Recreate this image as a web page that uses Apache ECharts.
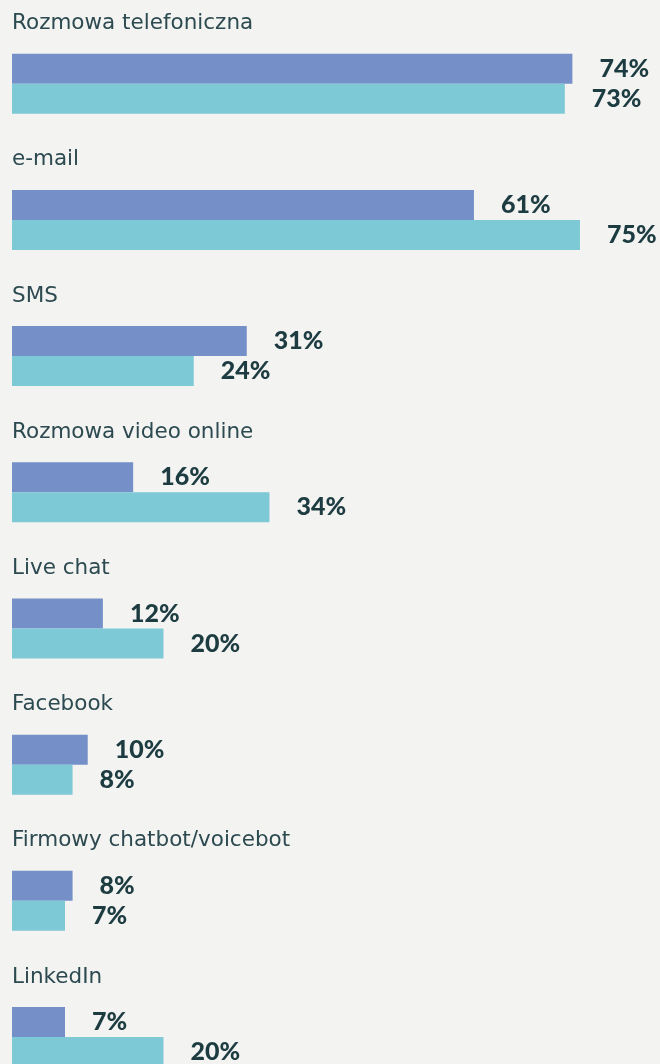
<!DOCTYPE html>
<html>
<head>
<meta charset="utf-8">
<script src="https://cdn.jsdelivr.net/npm/echarts@6/dist/echarts.min.js"></script>
<style>
  html, body { margin: 0; padding: 0; background: #f3f3f1; }
  #chart { width: 660px; height: 1064px; }
</style>
</head>
<body>
<div id="chart"></div>
<script>
  // kanały kontaktu
  const categories = [
    'Rozmowa telefoniczna',
    'e-mail',
    'SMS',
    'Rozmowa video online',
    'Live chat',
    'Facebook',
    'Firmowy chatbot/voicebot',
    'LinkedIn'
  ];
  const seriesA = [74, 61, 31, 16, 12, 10, 8, 7];
  const seriesB = [73, 75, 24, 34, 20, 8, 7, 20];

  const chart = echarts.init(document.getElementById('chart'));

  const valueLabel = {
    show: true,
    position: 'right',
    distance: 27,
    formatter: '{c}%',
    fontFamily: 'Lato',
    fontWeight: 900,
    fontSize: 25,
    color: '#1d3c41'
  };

  chart.setOption({
    backgroundColor: '#f3f3f1',
    animation: false,
    grid: {
      left: 12,
      top: 83.7,
      width: 643.7,
      height: 953.3
    },
    xAxis: {
      type: 'value',
      min: 0,
      max: 85,
      show: false
    },
    yAxis: {
      type: 'category',
      data: categories,
      inverse: true,
      boundaryGap: false,
      show: false
    },
    series: [
      {
        type: 'bar',
        data: seriesA,
        barWidth: 30,
        barGap: 0,
        clip: false,
        itemStyle: { color: '#7590c9' },
        label: valueLabel
      },
      {
        type: 'bar',
        data: seriesB,
        barWidth: 30,
        clip: false,
        itemStyle: { color: '#7dc9d5' },
        label: valueLabel
      },
      {
        // nazwy kategorii nad słupkami
        type: 'scatter',
        data: categories.map(c => [0, c]),
        symbolSize: 0,
        clip: false,
        silent: true,
        itemStyle: { opacity: 1 },
        label: {
          show: true,
          position: 'right',
          distance: 0,
          offset: [0, -60],
          formatter: p => p.value[1],
          fontFamily: 'DejaVu Sans',
          fontSize: 21.5,
          color: '#2c4a50'
        }
      }
    ]
  });
</script>
</body>
</html>
